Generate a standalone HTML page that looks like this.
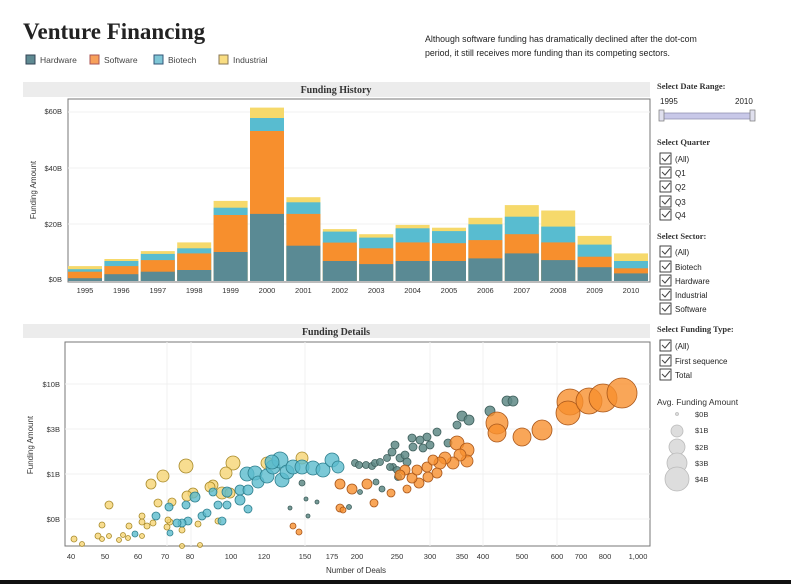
<!DOCTYPE html>
<html><head><meta charset="utf-8"><style>
body{margin:0;width:791px;height:584px;background:#fff;overflow:hidden;position:relative;font-family:"Liberation Sans",sans-serif;}
svg{position:absolute;left:0;top:0}
</style></head><body>
<svg width="791" height="584" xmlns="http://www.w3.org/2000/svg" font-family="Liberation Sans, sans-serif">
<text x="23" y="39" font-family="Liberation Serif, serif" font-weight="bold" font-size="23" fill="#222">Venture Financing</text>
<g font-size="8.5" fill="#444">
<rect x="26" y="55" width="9" height="9" fill="#5f8a92" stroke="#345"/><text x="40" y="63">Hardware</text>
<rect x="90" y="55" width="9" height="9" fill="#f7a05a" stroke="#a55"/><text x="104" y="63">Software</text>
<rect x="154" y="55" width="9" height="9" fill="#7fc6d6" stroke="#357"/><text x="168" y="63">Biotech</text>
<rect x="219" y="55" width="9" height="9" fill="#f9dd82" stroke="#875"/><text x="233" y="63">Industrial</text>
</g>
<g font-size="8.8" fill="#222"><text x="425" y="42">Although software funding has dramatically declined after the dot-com</text>
<text x="425" y="56">period, it still receives more funding than its competing sectors.</text></g>

<rect x="23" y="82" width="627" height="15" fill="#ececec"/>
<text x="336" y="93" text-anchor="middle" font-family="Liberation Serif, serif" font-weight="bold" font-size="10" fill="#333">Funding History</text>
<rect x="68" y="99" width="582" height="183" fill="#fff" stroke="#777"/>
<g stroke="#f0f0f0"><line x1="68" y1="224" x2="650" y2="224"/><line x1="68" y1="168" x2="650" y2="168"/><line x1="68" y1="112" x2="650" y2="112"/></g>
<g font-size="7.5" fill="#333" text-anchor="end"><text x="62" y="114">$60B</text><text x="62" y="171">$40B</text><text x="62" y="227">$20B</text><text x="62" y="282">$0B</text></g>
<text transform="translate(36,190) rotate(-90)" font-size="8" fill="#333" text-anchor="middle">Funding Amount</text>
<defs><style>.i{fill:#f6d96b}.b{fill:#58bcd0}.s{fill:#f78f2d}.h{fill:#5a8a94}</style></defs>
<g>
<g transform="translate(68,0)"><rect class="i" y="266.1" width="34" height="14.9"/><rect class="b" y="269.2" width="34" height="11.8"/><rect class="s" y="271.7" width="34" height="9.3"/><rect class="h" y="278.2" width="34" height="2.8"/></g>
<g transform="translate(104.4,0)"><rect class="i" y="259" width="34" height="22"/><rect class="b" y="261" width="34" height="20"/><rect class="s" y="266.1" width="34" height="14.9"/><rect class="h" y="274.2" width="34" height="6.8"/></g>
<g transform="translate(140.8,0)"><rect class="i" y="251.1" width="34" height="29.9"/><rect class="b" y="253.9" width="34" height="27.1"/><rect class="s" y="260.1" width="34" height="20.9"/><rect class="h" y="271.7" width="34" height="9.3"/></g>
<g transform="translate(177.2,0)"><rect class="i" y="242.4" width="34" height="38.6"/><rect class="b" y="248.3" width="34" height="32.7"/><rect class="s" y="253.4" width="34" height="27.6"/><rect class="h" y="270" width="34" height="11"/></g>
<g transform="translate(213.6,0)"><rect class="i" y="200.9" width="34" height="80.1"/><rect class="b" y="207.7" width="34" height="73.3"/><rect class="s" y="215" width="34" height="66"/><rect class="h" y="252" width="34" height="29"/></g>
<g transform="translate(250,0)"><rect class="i" y="107.6" width="34" height="173.4"/><rect class="b" y="118" width="34" height="163"/><rect class="s" y="131" width="34" height="150"/><rect class="h" y="213.9" width="34" height="67.1"/></g>
<g transform="translate(286.4,0)"><rect class="i" y="197.2" width="34" height="83.8"/><rect class="b" y="202.3" width="34" height="78.7"/><rect class="s" y="213.9" width="34" height="67.1"/><rect class="h" y="245.7" width="34" height="35.3"/></g>
<g transform="translate(322.8,0)"><rect class="i" y="229.1" width="34" height="51.9"/><rect class="b" y="231.6" width="34" height="49.4"/><rect class="s" y="242.6" width="34" height="38.4"/><rect class="h" y="261" width="34" height="20"/></g>
<g transform="translate(359.2,0)"><rect class="i" y="234.2" width="34" height="46.8"/><rect class="b" y="237.6" width="34" height="43.4"/><rect class="s" y="248.3" width="34" height="32.7"/><rect class="h" y="264.1" width="34" height="16.9"/></g>
<g transform="translate(395.6,0)"><rect class="i" y="224.9" width="34" height="56.1"/><rect class="b" y="228.3" width="34" height="52.7"/><rect class="s" y="242.4" width="34" height="38.6"/><rect class="h" y="261" width="34" height="20"/></g>
<g transform="translate(432,0)"><rect class="i" y="227.7" width="34" height="53.3"/><rect class="b" y="231.1" width="34" height="49.9"/><rect class="s" y="243.2" width="34" height="37.8"/><rect class="h" y="261" width="34" height="20"/></g>
<g transform="translate(468.4,0)"><rect class="i" y="217.8" width="34" height="63.2"/><rect class="b" y="224.3" width="34" height="56.7"/><rect class="s" y="240.1" width="34" height="40.9"/><rect class="h" y="258.4" width="34" height="22.6"/></g>
<g transform="translate(504.8,0)"><rect class="i" y="205.1" width="34" height="75.9"/><rect class="b" y="216.7" width="34" height="64.3"/><rect class="s" y="234.2" width="34" height="46.8"/><rect class="h" y="253.4" width="34" height="27.6"/></g>
<g transform="translate(541.2,0)"><rect class="i" y="210.5" width="34" height="70.5"/><rect class="b" y="226.6" width="34" height="54.4"/><rect class="s" y="242.4" width="34" height="38.6"/><rect class="h" y="260.1" width="34" height="20.9"/></g>
<g transform="translate(577.6,0)"><rect class="i" y="235.9" width="34" height="45.1"/><rect class="b" y="244.6" width="34" height="36.4"/><rect class="s" y="256.7" width="34" height="24.3"/><rect class="h" y="267.2" width="34" height="13.8"/></g>
<g transform="translate(614,0)"><rect class="i" y="253.4" width="34" height="27.6"/><rect class="b" y="261" width="34" height="20"/><rect class="s" y="268.3" width="34" height="12.7"/><rect class="h" y="273.4" width="34" height="7.6"/></g>
</g>
<g font-size="7.5" fill="#333" text-anchor="middle">
<text x="85" y="293">1995</text><text x="121.4" y="293">1996</text><text x="157.8" y="293">1997</text><text x="194.2" y="293">1998</text><text x="230.6" y="293">1999</text><text x="267" y="293">2000</text><text x="303.4" y="293">2001</text><text x="339.8" y="293">2002</text><text x="376.2" y="293">2003</text><text x="412.6" y="293">2004</text><text x="449" y="293">2005</text><text x="485.4" y="293">2006</text><text x="521.8" y="293">2007</text><text x="558.2" y="293">2008</text><text x="594.6" y="293">2009</text><text x="631" y="293">2010</text></g>

<rect x="23" y="324" width="627" height="14" fill="#ececec"/>
<text x="336" y="335" text-anchor="middle" font-family="Liberation Serif, serif" font-weight="bold" font-size="10" fill="#333">Funding Details</text>
<rect x="65" y="342" width="585" height="204" fill="#fff" stroke="#777"/>
<g stroke="#f0f0f0"><line x1="65" y1="384" x2="650" y2="384"/><line x1="65" y1="429" x2="650" y2="429"/><line x1="65" y1="474" x2="650" y2="474"/><line x1="65" y1="519" x2="650" y2="519"/>
<line x1="167" y1="342" x2="167" y2="546"/><line x1="191" y1="342" x2="191" y2="546"/><line x1="305" y1="342" x2="305" y2="546"/><line x1="430" y1="342" x2="430" y2="546"/><line x1="483" y1="342" x2="483" y2="546"/><line x1="557" y1="342" x2="557" y2="546"/></g>
<g font-size="7.5" fill="#333" text-anchor="end"><text x="60" y="387">$10B</text><text x="60" y="432">$3B</text><text x="60" y="477">$1B</text><text x="60" y="522">$0B</text></g>
<text transform="translate(33,445) rotate(-90)" font-size="8" fill="#333" text-anchor="middle">Funding Amount</text>
<g font-size="7.5" fill="#333" text-anchor="middle">
<text x="71" y="559">40</text><text x="105" y="559">50</text><text x="138" y="559">60</text><text x="165" y="559">70</text><text x="190" y="559">80</text><text x="231" y="559">100</text><text x="264" y="559">120</text><text x="305" y="559">150</text><text x="332" y="559">175</text><text x="357" y="559">200</text><text x="397" y="559">250</text><text x="430" y="559">300</text><text x="462" y="559">350</text><text x="483" y="559">400</text><text x="522" y="559">500</text><text x="557" y="559">600</text><text x="581" y="559">700</text><text x="605" y="559">800</text><text x="638" y="559">1,000</text></g>
<text x="356" y="573" text-anchor="middle" font-size="8" fill="#333">Number of Deals</text>

<g fill="#f6d574" fill-opacity="0.8" stroke="#a88a2a" stroke-width="0.8">
<circle cx="186" cy="466" r="7"/><circle cx="163" cy="476" r="6"/><circle cx="151" cy="484" r="5"/><circle cx="109" cy="505" r="4"/><circle cx="233" cy="463" r="7"/><circle cx="226" cy="473" r="6"/><circle cx="213" cy="485" r="5"/><circle cx="210" cy="487" r="5"/><circle cx="193" cy="493" r="5"/><circle cx="187" cy="496" r="5"/><circle cx="158" cy="503" r="4"/><circle cx="172" cy="502" r="4"/><circle cx="222" cy="493" r="6"/><circle cx="230" cy="493" r="5"/><circle cx="267" cy="463" r="6"/><circle cx="302" cy="458" r="6"/><circle cx="102" cy="525" r="3"/><circle cx="129" cy="526" r="3"/><circle cx="142" cy="516" r="3"/><circle cx="142" cy="522" r="3"/><circle cx="147" cy="526" r="3"/><circle cx="153" cy="523" r="3"/><circle cx="167" cy="527" r="3"/><circle cx="170" cy="522" r="3"/><circle cx="182" cy="530" r="3"/><circle cx="198" cy="524" r="3"/><circle cx="74" cy="539" r="3"/><circle cx="82" cy="544" r="2.5"/><circle cx="98" cy="536" r="3"/><circle cx="102" cy="539" r="2.5"/><circle cx="109" cy="536" r="2.5"/><circle cx="119" cy="540" r="2.5"/><circle cx="123" cy="535" r="2.5"/><circle cx="128" cy="538" r="2.5"/><circle cx="142" cy="536" r="2.5"/><circle cx="182" cy="546" r="2.5"/><circle cx="200" cy="545" r="2.5"/><circle cx="218" cy="521" r="3"/><circle cx="168" cy="520" r="3"/>
</g>
<g fill="#5bbccd" fill-opacity="0.8" stroke="#2e7f8e" stroke-width="0.8">
<circle cx="247" cy="474" r="7"/><circle cx="255" cy="473" r="7"/><circle cx="258" cy="482" r="6"/><circle cx="267" cy="476" r="7"/><circle cx="273" cy="467" r="7"/><circle cx="280" cy="460" r="8"/><circle cx="282" cy="480" r="7"/><circle cx="287" cy="472" r="7"/><circle cx="293" cy="467" r="7"/><circle cx="302" cy="467" r="7"/><circle cx="313" cy="468" r="7"/><circle cx="323" cy="470" r="7"/><circle cx="332" cy="460" r="7"/><circle cx="338" cy="467" r="6"/><circle cx="240" cy="490" r="5"/><circle cx="248" cy="490" r="5"/><circle cx="240" cy="500" r="5"/><circle cx="248" cy="509" r="4"/><circle cx="227" cy="492" r="5"/><circle cx="227" cy="505" r="4"/><circle cx="218" cy="505" r="4"/><circle cx="213" cy="492" r="4"/><circle cx="195" cy="497" r="5"/><circle cx="186" cy="505" r="4"/><circle cx="169" cy="507" r="4"/><circle cx="156" cy="516" r="4"/><circle cx="202" cy="516" r="4"/><circle cx="207" cy="513" r="4"/><circle cx="188" cy="521" r="4"/><circle cx="182" cy="523" r="4"/><circle cx="177" cy="523" r="4"/><circle cx="222" cy="521" r="4"/><circle cx="170" cy="533" r="3"/><circle cx="135" cy="534" r="3"/><circle cx="272" cy="462" r="7"/>
</g>
<g fill="#5f8a86" fill-opacity="0.85" stroke="#3e5e5b" stroke-width="0.8">
<circle cx="290" cy="508" r="2"/><circle cx="302" cy="483" r="3"/><circle cx="306" cy="499" r="2"/><circle cx="317" cy="502" r="2"/><circle cx="308" cy="516" r="2"/><circle cx="355" cy="463" r="3.5"/><circle cx="359" cy="465" r="3.5"/><circle cx="366" cy="465" r="3.5"/><circle cx="372" cy="466" r="3.5"/><circle cx="375" cy="463" r="3.5"/><circle cx="380" cy="462" r="3.5"/><circle cx="387" cy="458" r="3.5"/><circle cx="392" cy="452" r="4"/><circle cx="395" cy="445" r="4"/><circle cx="376" cy="482" r="3"/><circle cx="382" cy="489" r="3"/><circle cx="360" cy="492" r="2.5"/><circle cx="349" cy="507" r="2.5"/><circle cx="393" cy="467" r="3.5"/>
<circle cx="400" cy="458" r="4"/><circle cx="412" cy="438" r="4"/><circle cx="420" cy="440" r="4"/><circle cx="427" cy="437" r="4"/><circle cx="413" cy="447" r="4"/><circle cx="423" cy="448" r="4"/><circle cx="430" cy="445" r="4"/><circle cx="437" cy="432" r="4"/><circle cx="448" cy="443" r="4"/><circle cx="457" cy="425" r="4"/><circle cx="462" cy="416" r="5"/><circle cx="469" cy="420" r="5"/><circle cx="490" cy="411" r="5"/><circle cx="507" cy="401" r="5"/><circle cx="513" cy="401" r="5"/><circle cx="390" cy="467" r="3.5"/><circle cx="397" cy="470" r="3.5"/><circle cx="398" cy="477" r="3.5"/><circle cx="405" cy="455" r="4"/><circle cx="407" cy="462" r="4"/>
</g>
<g fill="#f7902e" fill-opacity="0.8" stroke="#a8561a" stroke-width="0.8">
<circle cx="497" cy="423" r="11"/><circle cx="497" cy="433" r="9"/><circle cx="522" cy="437" r="9"/><circle cx="542" cy="430" r="10"/><circle cx="570" cy="402" r="13"/><circle cx="568" cy="413" r="12"/><circle cx="589" cy="401" r="13"/><circle cx="603" cy="398" r="14"/><circle cx="622" cy="393" r="15"/>
<circle cx="457" cy="443" r="7"/><circle cx="467" cy="450" r="7"/><circle cx="467" cy="461" r="6"/><circle cx="460" cy="455" r="6"/><circle cx="453" cy="463" r="6"/><circle cx="445" cy="458" r="6"/><circle cx="440" cy="463" r="6"/><circle cx="437" cy="473" r="5"/><circle cx="428" cy="477" r="5"/><circle cx="419" cy="483" r="5"/><circle cx="412" cy="478" r="5"/><circle cx="405" cy="470" r="5"/><circle cx="417" cy="470" r="5"/><circle cx="427" cy="467" r="5"/><circle cx="407" cy="489" r="4"/><circle cx="391" cy="493" r="4"/><circle cx="400" cy="475" r="5"/><circle cx="433" cy="460" r="5"/>
<circle cx="340" cy="484" r="5"/><circle cx="352" cy="489" r="5"/><circle cx="367" cy="484" r="5"/><circle cx="374" cy="503" r="4"/><circle cx="340" cy="508" r="4"/><circle cx="293" cy="526" r="3"/><circle cx="299" cy="532" r="3"/><circle cx="343" cy="510" r="3"/>
</g>

<g font-family="Liberation Serif, serif" font-weight="bold" font-size="8.5" fill="#333">
<text x="657" y="89">Select Date Range:</text><text x="657" y="145">Select Quarter</text><text x="657" y="239">Select Sector:</text><text x="657" y="332">Select Funding Type:</text></g>
<g font-size="8" fill="#222"><text x="660" y="104">1995</text><text x="735" y="104">2010</text></g>
<rect x="661" y="113" width="93" height="6" fill="#c8c8e8" stroke="#8888aa" stroke-width="0.7"/>
<rect x="659" y="110" width="5" height="11" fill="#e0e0ee" stroke="#777" stroke-width="0.7"/>
<rect x="750" y="110" width="5" height="11" fill="#e0e0ee" stroke="#777" stroke-width="0.7"/>
<g fill="#fff" stroke="#333" stroke-width="0.9">
<rect x="660" y="153" width="11" height="11"/><rect x="660" y="167" width="11" height="11"/><rect x="660" y="181" width="11" height="11"/><rect x="660" y="196" width="11" height="11"/><rect x="660" y="209" width="11" height="11"/>
<rect x="660" y="246" width="11" height="11"/><rect x="660" y="261" width="11" height="11"/><rect x="660" y="275" width="11" height="11"/><rect x="660" y="289" width="11" height="11"/><rect x="660" y="303" width="11" height="11"/>
<rect x="660" y="340" width="11" height="11"/><rect x="660" y="355" width="11" height="11"/><rect x="660" y="369" width="11" height="11"/></g>
<g fill="none" stroke="#444" stroke-width="1">
<path d="M662 158l3 3l5-6M662 172l3 3l5-6M662 186l3 3l5-6M662 201l3 3l5-6M662 214l3 3l5-6M662 251l3 3l5-6M662 266l3 3l5-6M662 280l3 3l5-6M662 294l3 3l5-6M662 308l3 3l5-6M662 345l3 3l5-6M662 360l3 3l5-6M662 374l3 3l5-6"/></g>
<g font-size="8" fill="#222">
<text x="675" y="162">(All)</text><text x="675" y="176">Q1</text><text x="675" y="190">Q2</text><text x="675" y="205">Q3</text><text x="675" y="218">Q4</text>
<text x="675" y="255">(All)</text><text x="675" y="270">Biotech</text><text x="675" y="284">Hardware</text><text x="675" y="298">Industrial</text><text x="675" y="312">Software</text>
<text x="675" y="349">(All)</text><text x="675" y="364">First sequence</text><text x="675" y="378">Total</text></g>
<text x="657" y="405" font-size="8.5" fill="#333">Avg. Funding Amount</text>
<g fill="#ddd" stroke="#bbb" stroke-width="0.8">
<circle cx="677" cy="414" r="1.5"/><circle cx="677" cy="431" r="6"/><circle cx="677" cy="447" r="8"/><circle cx="677" cy="463" r="10"/><circle cx="677" cy="479" r="12"/></g>
<g font-size="7.5" fill="#333"><text x="695" y="417">$0B</text><text x="695" y="433">$1B</text><text x="695" y="450">$2B</text><text x="695" y="466">$3B</text><text x="695" y="482">$4B</text></g>
<rect x="0" y="580" width="791" height="4" fill="#111"/>
</svg>
</body></html>
